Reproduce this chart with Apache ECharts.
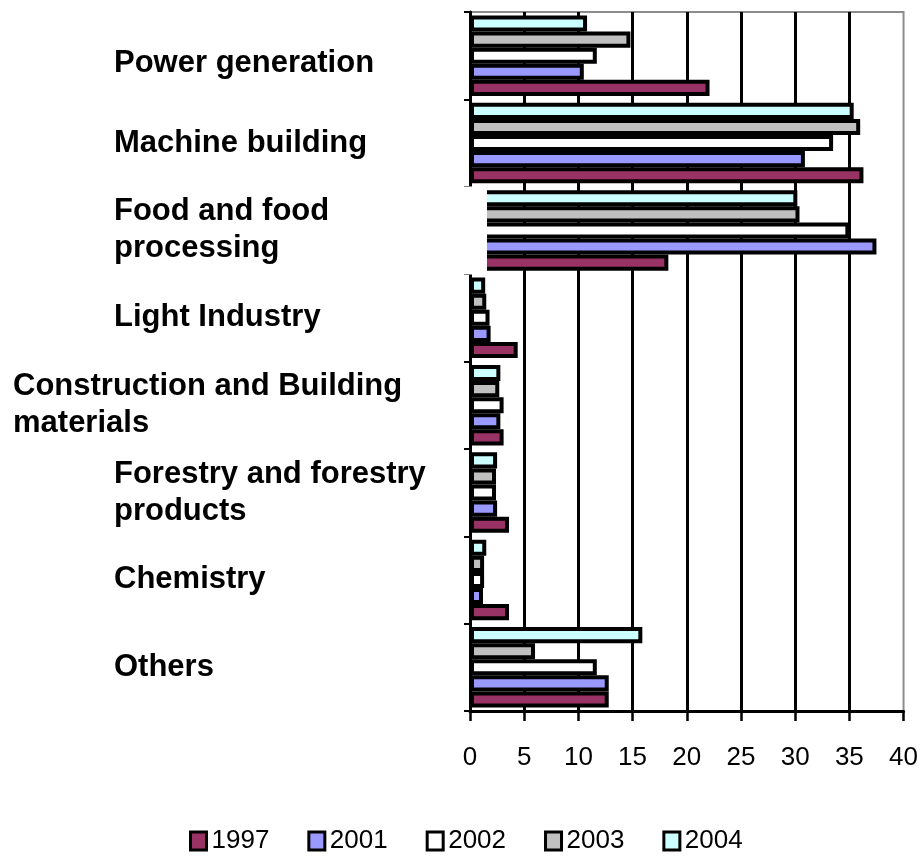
<!DOCTYPE html>
<html>
<head>
<meta charset="utf-8">
<title>Industry structure</title>
<script src="https://cdn.jsdelivr.net/npm/echarts@6/dist/echarts.min.js"></script>
<style>
  html, body { margin: 0; padding: 0; background: #fff; }
  #main { width: 921px; height: 862px; }
</style>
</head>
<body>
<div id="main"></div>
<script>
// categories, top to bottom
var categories = [
  'Power generation',
  'Machine building',
  'Food and food\nprocessing',
  'Light Industry',
  'Construction and Building\nmaterials',
  'Forestry and forestry\nproducts',
  'Chemistry',
  'Others'
];
var years = ['1997', '2001', '2002', '2003', '2004'];
var yearColors = ['#993366', '#9999ff', '#ffffff', '#c0c0c0', '#ccffff'];

var v1997 = [22.1, 36.3, 18.3, 4.4, 3.1, 3.6, 3.6, 12.8];
var v2001 = [10.5, 30.9, 37.5, 1.9, 2.8, 2.5, 1.2, 12.8];
var v2002 = [11.7, 33.5, 35.0, 1.8, 3.1, 2.4, 1.3, 11.7];
var v2003 = [14.8, 36.0, 30.4, 1.5, 2.7, 2.4, 1.3, 6.0];
var v2004 = [10.8, 35.4, 30.2, 1.4, 2.8, 2.5, 1.5, 15.9];
var values = [v1997, v2001, v2002, v2003, v2004];

var xMin = 0, xMax = 40, xStep = 5;

var chart = echarts.init(document.getElementById('main'));

var labelFont = {
  fontFamily: 'Liberation Sans, Arial, sans-serif',
  fontWeight: 'bold',
  fontSize: 31,
  color: '#000',
  lineHeight: 37,
  align: 'left'
};
var smallFont = {
  fontFamily: 'Liberation Sans, Arial, sans-serif',
  color: '#000'
};

// the food label box is white and hides the start of its bars
var yData = categories.map(function (c) {
  if (c.indexOf('Food') === 0) {
    return { value: c, textStyle: { backgroundColor: '#fff', padding: [7, 0, 7, 0] } };
  }
  if (c.indexOf('Power') === 0) {
    return { value: c, textStyle: { padding: [16, 0, 0, 0] } };
  }
  return c;
});

// series go top->bottom inside each group, so 2004 first and 1997 last
var series = [];
for (var i = years.length - 1; i >= 0; i--) {
  series.push({
    name: years[i],
    type: 'bar',
    data: values[i],
    barGap: '0%',
    barCategoryGap: '8%',
    itemStyle: {
      color: yearColors[i],
      borderColor: '#000',
      borderWidth: 4
    }
  });
}

var option = {
  animation: false,
  backgroundColor: '#fff',
  grid: {
    left: 470,
    right: 15,
    top: 12,
    bottom: 151,
    show: true,
    borderColor: '#8c8c8c',
    borderWidth: 2
  },
  legend: {
    data: years,
    left: 184,
    top: 823,
    icon: 'rect',
    itemWidth: 16,
    itemHeight: 18,
    itemGap: 38,
    itemStyle: { borderColor: '#000', borderWidth: 3 },
    textStyle: Object.assign({ fontSize: 26 }, smallFont)
  },
  xAxis: {
    type: 'value',
    min: xMin,
    max: xMax,
    interval: xStep,
    axisLine: { show: true, lineStyle: { color: '#000', width: 3 } },
    axisTick: { show: true, length: 10, lineStyle: { color: '#000', width: 2.5 } },
    axisLabel: Object.assign({ margin: 34, fontSize: 26 }, smallFont),
    splitLine: {
      show: true,
      showMaxLine: false,
      lineStyle: { color: '#000', width: 3 }
    }
  },
  yAxis: {
    type: 'category',
    data: yData,
    inverse: true,
    z: 3,
    axisLine: { show: true, lineStyle: { color: '#000', width: 3 } },
    axisTick: { show: true, length: 6, lineStyle: { color: '#000', width: 2 } },
    axisLabel: {
      interval: 0,
      margin: -17,
      formatter: function (value) {
        var s = value.indexOf('Construction') === 0 ? 'wide' : 'n';
        return value.split('\n').map(function (l) {
          return '{' + s + '|' + l + '}';
        }).join('\n');
      },
      rich: {
        n: Object.assign({ width: 373 }, labelFont),
        wide: Object.assign({ width: 474 }, labelFont)
      }
    },
    splitLine: { show: false }
  },
  series: series
};

chart.setOption(option);
</script>
</body>
</html>
